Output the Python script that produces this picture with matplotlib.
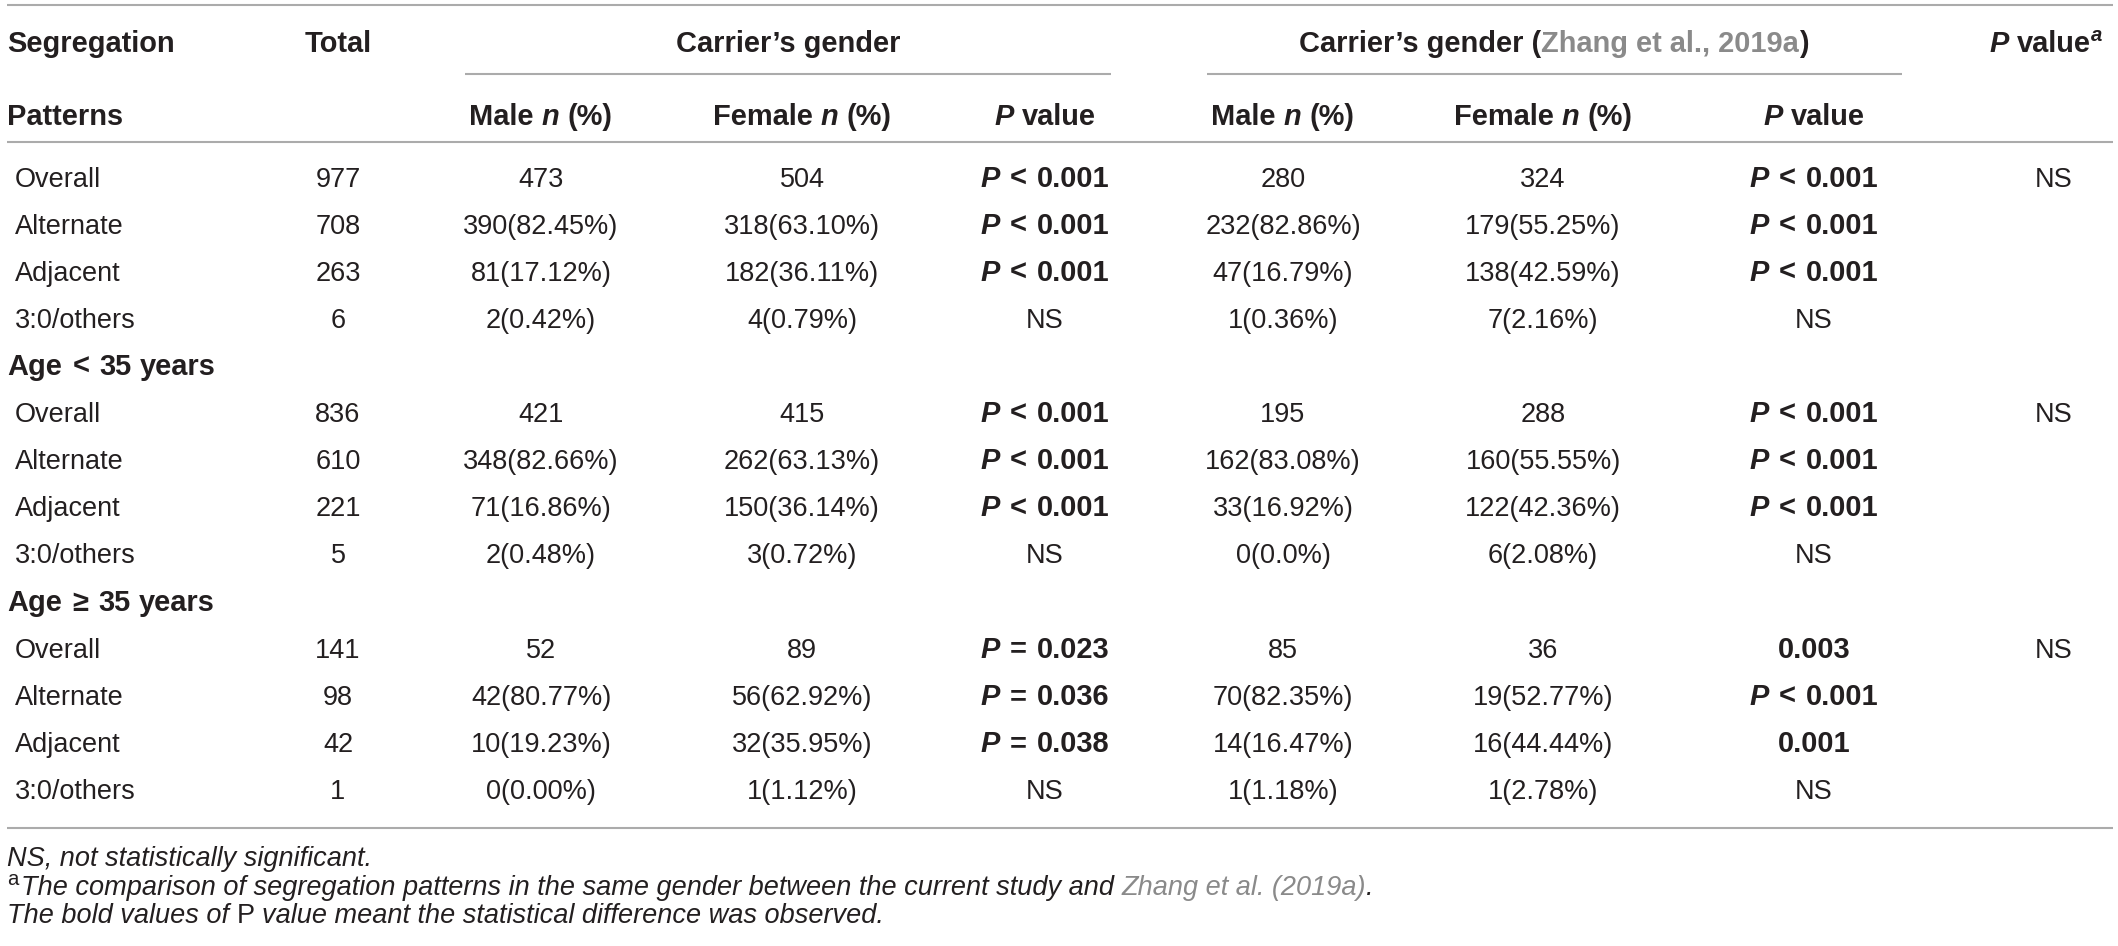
import matplotlib
matplotlib.use("Agg")
import matplotlib.pyplot as plt

# ---------------- data ----------------
group_titles = [None, "Age < 35 years", "Age \u2265 35 years"]
row_labels = ["Overall", "Alternate", "Adjacent", "3:0/others"]

totals = [["977", "708", "263", "6"],
          ["836", "610", "221", "5"],
          ["141", "98", "42", "1"]]
male = [["473", "390(82.45%)", "81(17.12%)", "2(0.42%)"],
        ["421", "348(82.66%)", "71(16.86%)", "2(0.48%)"],
        ["52", "42(80.77%)", "10(19.23%)", "0(0.00%)"]]
female = [["504", "318(63.10%)", "182(36.11%)", "4(0.79%)"],
          ["415", "262(63.13%)", "150(36.14%)", "3(0.72%)"],
          ["89", "56(62.92%)", "32(35.95%)", "1(1.12%)"]]
p_cur = [["P < 0.001", "P < 0.001", "P < 0.001", "NS"],
         ["P < 0.001", "P < 0.001", "P < 0.001", "NS"],
         ["P = 0.023", "P = 0.036", "P = 0.038", "NS"]]
male_z = [["280", "232(82.86%)", "47(16.79%)", "1(0.36%)"],
          ["195", "162(83.08%)", "33(16.92%)", "0(0.0%)"],
          ["85", "70(82.35%)", "14(16.47%)", "1(1.18%)"]]
female_z = [["324", "179(55.25%)", "138(42.59%)", "7(2.16%)"],
            ["288", "160(55.55%)", "122(42.36%)", "6(2.08%)"],
            ["36", "19(52.77%)", "16(44.44%)", "1(2.78%)"]]
p_z = [["P < 0.001", "P < 0.001", "P < 0.001", "NS"],
       ["P < 0.001", "P < 0.001", "P < 0.001", "NS"],
       ["0.003", "P < 0.001", "0.001", "NS"]]
p_a = ["NS", "NS", "NS"]

# ---------------- layout ----------------
W, H, DPI = 2118, 946, 100
FAM = ["Liberation Sans", "DejaVu Sans"]
FS = 19.5
FPX = FS * DPI / 72.0
TXT = "#231f20"
GRAY = "#8a8a8a"
LINE = "#ababab"
BS = 1.07  # bold text is set a little wider in the source

col_x = [338, 541, 802, 1045, 1283, 1543, 1814, 2054]
x_head = 7
x_lab = 15
y_h1, y_h2 = 42, 115
row_y0, row_dy = 177, 47.1

fig = plt.figure(figsize=(W / DPI, H / DPI), dpi=DPI)
ax = fig.add_axes([0, 0, 1, 1])
ax.set_xlim(0, W)
ax.set_ylim(H, 0)
ax.axis("off")
renderer = fig.canvas.get_renderer()


def runs(x, yc, parts, ha="left"):
    """parts: list of (text, props). ' ' means a space advance."""
    objs, widths = [], []
    base = yc + 0.358 * FPX
    for txt, p in parts:
        sc = p.get("scale", 1.0)
        if txt == " ":
            objs.append(None)
            widths.append(p.get("sp", 0.278) * FPX * sc)
            continue
        t = ax.text(0, base + p.get("dy", 0), txt, fontsize=FS * sc,
                    fontweight=p.get("w", "normal"), fontstyle=p.get("s", "normal"),
                    color=p.get("c", TXT), va="baseline", ha="left", family=FAM)
        bb = t.get_window_extent(renderer)
        objs.append(t)
        widths.append(bb.width + p.get("pad", 0))
    total = sum(widths)
    cur = x - total / 2 if ha == "center" else x
    for o, w in zip(objs, widths):
        if o is not None:
            o.set_x(cur)
        cur += w


R = {}
B = {"w": "bold", "scale": BS}
BI = {"w": "bold", "s": "italic", "scale": BS}
BSP = {"w": "bold", "scale": BS, "sp": 0.36}
I = {"s": "italic"}


def pval(x, yc, s):
    if s.startswith("P "):
        op, num = s[2], s[4:]
        runs(x, yc, [("P", BI), (" ", BSP), (op, B), (" ", BSP), (num, B)], ha="center")
    elif s == "NS":
        runs(x, yc, [(s, R)], ha="center")
    else:
        runs(x, yc, [(s, B)], ha="center")


def hline(y, x0, x1):
    ax.plot([x0, x1], [y, y], color=LINE, lw=1.5, solid_capstyle="butt")


# rules
hline(5, 7, 2113)
hline(74, 465, 1111)
hline(74, 1207, 1902)
hline(142, 7, 2113)
hline(828, 7, 2113)

# header row 1
runs(x_head, y_h1, [("Segregation", B)])
runs(col_x[0], y_h1, [("Total", B)], ha="center")
runs(788, y_h1, [("Carrier\u2019s gender", B)], ha="center")
runs(1554, y_h1, [("Carrier\u2019s gender (", B),
                  ("Zhang et al., 2019a", {"w": "bold", "c": GRAY, "scale": BS}),
                  (")", B)], ha="center")
runs(2046, y_h1, [("P", BI), (" ", B), ("value", B),
                  ("a", {"w": "bold", "s": "italic", "scale": 0.75, "dy": -0.38 * FPX})], ha="center")

# header row 2
runs(x_head, y_h2, [("Patterns", B)])
for cx in (col_x[1], col_x[4]):
    runs(cx, y_h2, [("Male", B), (" ", B), ("n", BI), (" ", B), ("(%)", B)], ha="center")
for cx in (col_x[2], col_x[5]):
    runs(cx, y_h2, [("Female", B), (" ", B), ("n", BI), (" ", B), ("(%)", B)], ha="center")
for cx in (col_x[3], col_x[6]):
    runs(cx, y_h2, [("P", BI), (" ", B), ("value", B)], ha="center")

# body
r = 0
for g in range(3):
    if group_titles[g] is not None:
        words = group_titles[g].split(" ")
        parts = []
        for i, wd in enumerate(words):
            if i:
                parts.append((" ", BSP if i in (1, 2) else B))
            parts.append((wd, B))
        runs(x_head, row_y0 + r * row_dy, parts)
        r += 1
    for k in range(4):
        yc = row_y0 + r * row_dy
        runs(x_lab, yc, [(row_labels[k], R)])
        runs(col_x[0], yc, [(totals[g][k], R)], ha="center")
        runs(col_x[1], yc, [(male[g][k], R)], ha="center")
        runs(col_x[2], yc, [(female[g][k], R)], ha="center")
        pval(col_x[3], yc, p_cur[g][k])
        runs(col_x[4], yc, [(male_z[g][k], R)], ha="center")
        runs(col_x[5], yc, [(female_z[g][k], R)], ha="center")
        pval(col_x[6], yc, p_z[g][k])
        if k == 0:
            runs(col_x[7], yc, [(p_a[g], R)], ha="center")
        r += 1

# footnotes
runs(x_head, 856, [("NS, not statistically significant.", I)])
runs(x_head, 885, [("a", {"scale": 0.75, "dy": -0.36 * FPX, "pad": 3}),
                   ("The comparison of segregation patterns in the same gender between the current study and", I),
                   (" ", I), ("Zhang et al. (2019a)", {"s": "italic", "c": GRAY}), (".", I)])
runs(x_head, 913, [("The bold values of", I), (" ", I), ("P", R), (" ", I),
                   ("value meant the statistical difference was observed.", I)])

fig.savefig("out.png", dpi=DPI)
